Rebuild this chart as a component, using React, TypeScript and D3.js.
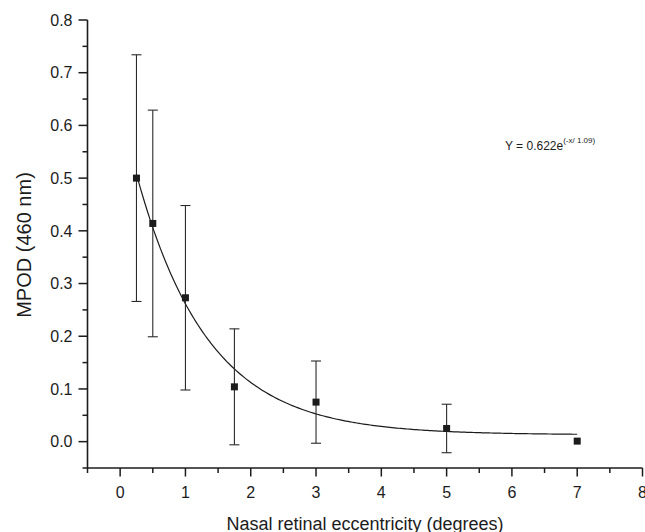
import React from "react";
import * as d3 from "d3";

// Macular pigment optical density vs. nasal retinal eccentricity
const eccentricity = [0.25, 0.5, 1, 1.75, 3, 5, 7];
const mpod = [0.5, 0.414, 0.273, 0.104, 0.075, 0.025, 0.001];
const mpodSd = [0.234, 0.215, 0.175, 0.11, 0.078, 0.046, 0];

const xTicks = [0, 1, 2, 3, 4, 5, 6, 7, 8];
const xMinorTicks = [-0.5, 0.5, 1.5, 2.5, 3.5, 4.5, 5.5, 6.5, 7.5];
const yTicks = [0, 0.1, 0.2, 0.3, 0.4, 0.5, 0.6, 0.7, 0.8];
const yMinorTicks = [-0.05, 0.05, 0.15, 0.25, 0.35, 0.45, 0.55, 0.65, 0.75];

// Exponential decay fit: Y = y0 + A * exp(-x / t)
const fitAmplitude = 0.622;
const fitDecay = 1.09;
const fitOffset = 0.013;
const fitRange = [0.25, 7];

const W = 645;
const H = 532;
const FONT = "Arial, 'Liberation Sans', Helvetica, sans-serif";
const INK = "#1c1c1c";

export default function App() {
  const x = d3.scaleLinear().domain([-0.5, 8]).range([87.5, 642.5]);
  const y = d3.scaleLinear().domain([-0.05, 0.8]).range([468, 20]);

  const fitPoints = d3
    .range(0, 201)
    .map((i) => fitRange[0] + ((fitRange[1] - fitRange[0]) * i) / 200)
    .map((v) => [v, fitOffset + fitAmplitude * Math.exp(-v / fitDecay)] as [number, number]);
  const fitLine = d3
    .line<[number, number]>()
    .x((d) => x(d[0]))
    .y((d) => y(d[1]))
    .curve(d3.curveLinear);

  const x0 = x(-0.5);
  const yBase = y(-0.05);
  const fmtY = d3.format(".1f");

  return (
    <svg
      width={W}
      height={H}
      style={{ position: "absolute", left: 0, top: 0, background: "#fff" }}
      fontFamily={FONT}
    >
      {/* fitted curve */}
      <path d={fitLine(fitPoints) || ""} fill="none" stroke={INK} strokeWidth={1.2} />

      {/* error bars */}
      {eccentricity.map((e, i) =>
        mpodSd[i] > 0 ? (
          <g key={`eb${i}`} stroke="#2a2a2a" strokeWidth={1.1}>
            <line x1={x(e)} x2={x(e)} y1={y(mpod[i] + mpodSd[i])} y2={y(mpod[i] - mpodSd[i])} />
            <line x1={x(e) - 5} x2={x(e) + 5} y1={y(mpod[i] + mpodSd[i])} y2={y(mpod[i] + mpodSd[i])} />
            <line x1={x(e) - 5} x2={x(e) + 5} y1={y(mpod[i] - mpodSd[i])} y2={y(mpod[i] - mpodSd[i])} />
          </g>
        ) : null
      )}

      {/* data markers */}
      {eccentricity.map((e, i) => (
        <rect key={`m${i}`} x={x(e) - 3.5} y={y(mpod[i]) - 3.5} width={7} height={7} fill={INK} />
      ))}

      {/* y axis */}
      <line x1={x0} x2={x0} y1={y(0.8)} y2={yBase} stroke={INK} strokeWidth={1.6} />
      {yTicks.map((t) => (
        <g key={`yt${t}`}>
          <line x1={x0 - 9} x2={x0} y1={y(t)} y2={y(t)} stroke={INK} strokeWidth={1.5} />
          <text x={x0 - 15} y={y(t) + 5.7} textAnchor="end" fontSize={16} fill={INK}>
            {fmtY(t)}
          </text>
        </g>
      ))}
      {yMinorTicks.map((t) => (
        <line key={`ym${t}`} x1={x0 - 5} x2={x0} y1={y(t)} y2={y(t)} stroke={INK} strokeWidth={1.5} />
      ))}

      {/* x axis */}
      <line x1={x0} x2={x(8)} y1={yBase} y2={yBase} stroke={INK} strokeWidth={1.6} />
      {xTicks.map((t) => (
        <g key={`xt${t}`}>
          <line x1={x(t)} x2={x(t)} y1={yBase} y2={yBase + 8.5} stroke={INK} strokeWidth={1.5} />
          <text x={x(t)} y={497.5} textAnchor="middle" fontSize={16} fill={INK}>
            {t}
          </text>
        </g>
      ))}
      {xMinorTicks.map((t) => (
        <line key={`xm${t}`} x1={x(t)} x2={x(t)} y1={yBase} y2={yBase + 5} stroke={INK} strokeWidth={1.5} />
      ))}

      {/* axis titles */}
      <text x={365} y={529.5} textAnchor="middle" fontSize={18} fill={INK}>
        Nasal retinal eccentricity (degrees)
      </text>
      <text
        transform="translate(31,245) rotate(-90)"
        textAnchor="middle"
        fontSize={20}
        fill={INK}
      >
        MPOD (460 nm)
      </text>

      {/* fit equation */}
      <text x={505} y={150} fontSize={12} fill={INK}>
        Y = 0.622e
        <tspan fontSize={8} dy={-7}>
          (-x/ 1.09)
        </tspan>
      </text>
    </svg>
  );
}
